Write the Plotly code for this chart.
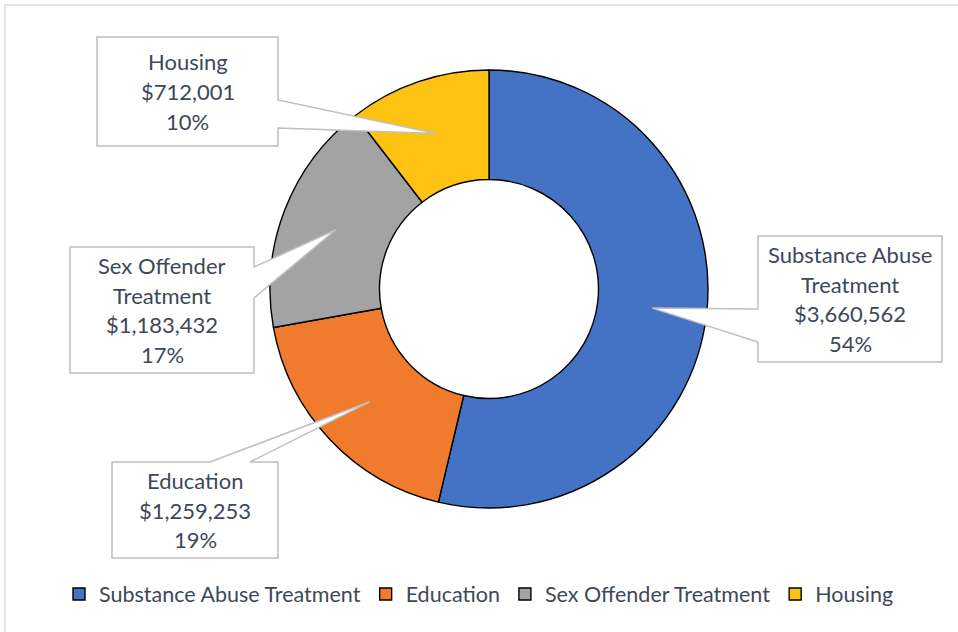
import math
import plotly.graph_objects as go

# ---- data ----
categories = ["Substance Abuse Treatment", "Education", "Sex Offender Treatment", "Housing"]
values = [3660562, 1259253, 1183432, 712001]
amount_labels = ["$3,660,562", "$1,259,253", "$1,183,432", "$712,001"]
pct_labels = ["54%", "19%", "17%", "10%"]
callout_names = [["Substance Abuse", "Treatment"], ["Education"], ["Sex Offender", "Treatment"], ["Housing"]]
colors = ["#4472C4", "#F07B2C", "#A3A3A3", "#FDC212"]

W, H = 958, 632
CX, CY, R = 489, 289, 219
TEXT_COLOR = "#3E4858"
FONT = "Lato"


def px(x):
    return x / W


def py(y):
    return 1 - y / H


fig = go.Figure()
fig.add_trace(go.Pie(
    labels=categories, values=values, hole=0.5, sort=False, direction="clockwise",
    rotation=0, textinfo="none", hoverinfo="label+value+percent",
    marker=dict(colors=colors, line=dict(color="#000000", width=1.4)),
    domain=dict(x=[px(CX - R), px(CX + R)], y=[py(CY + R), py(CY - R)]),
))

# callout boxes (layout): left, top, right, bottom, base side, base span
boxes = [
    dict(l=758, t=236, r=942, b=362, side="left", s0=309, s1=342),
    dict(l=112, t=462, r=278, b=558, side="top", s0=210, s1=250),
    dict(l=70, t=247, r=254, b=373, side="right", s0=267, s1=298),
    dict(l=97, t=37, r=278, b=146, side="right", s0=100, s1=128),
]

total = sum(values)
cum = 0
shapes = []
annotations = []
for i, v in enumerate(values):
    mid = (cum + v / 2) / total * 2 * math.pi
    cum += v
    tx = CX + 0.75 * R * math.sin(mid)
    ty = CY - 0.75 * R * math.cos(mid)
    b = boxes[i]
    l, t, r, bt = b["l"], b["t"], b["r"], b["b"]
    if b["side"] == "left":
        pts = [(l, t), (r, t), (r, bt), (l, bt), (l, b["s1"]), (tx, ty), (l, b["s0"])]
    elif b["side"] == "right":
        pts = [(l, t), (r, t), (r, b["s0"]), (tx, ty), (r, b["s1"]), (r, bt), (l, bt)]
    else:  # top
        pts = [(l, t), (b["s0"], t), (tx, ty), (b["s1"], t), (r, t), (r, bt), (l, bt)]
    path = "M " + " L ".join(f"{px(x):.5f},{py(y):.5f}" for x, y in pts) + " Z"
    shapes.append(dict(type="path", xref="paper", yref="paper", path=path,
                       fillcolor="#FFFFFF", line=dict(color="#BFBFBF", width=1.5), layer="above"))
    lines = callout_names[i] + [amount_labels[i], pct_labels[i]]
    spacing = 29.5
    cyb = (t + bt) / 2
    y0 = cyb - spacing * (len(lines) - 1) / 2
    for k, txt in enumerate(lines):
        annotations.append(dict(
            x=px((l + r) / 2), y=py(y0 + k * spacing), xref="paper", yref="paper",
            text=txt, showarrow=False, xanchor="center", yanchor="middle",
            font=dict(family=FONT, size=22, color=TEXT_COLOR)))

# chart frame
shapes.append(dict(type="line", xref="paper", yref="paper", x0=px(4), x1=1, y0=py(5), y1=py(5),
                   line=dict(color="#D9DEE6", width=1.5)))
shapes.append(dict(type="line", xref="paper", yref="paper", x0=px(5), x1=px(5), y0=py(5), y1=0,
                   line=dict(color="#D9DEE6", width=1.5)))

fig.update_layout(
    width=W, height=H, margin=dict(l=0, r=0, t=0, b=0),
    paper_bgcolor="#FFFFFF", plot_bgcolor="#FFFFFF",
    shapes=shapes, annotations=annotations,
    showlegend=True,
    legend=dict(orientation="h", x=0.5, xanchor="center", y=py(594), yanchor="middle",
                font=dict(family=FONT, size=21.5, color=TEXT_COLOR), itemwidth=30,
                tracegroupgap=0),
)

fig.write_html("out.html", config={"displayModeBar": False},
               post_script="document.body.style.margin='0';")
